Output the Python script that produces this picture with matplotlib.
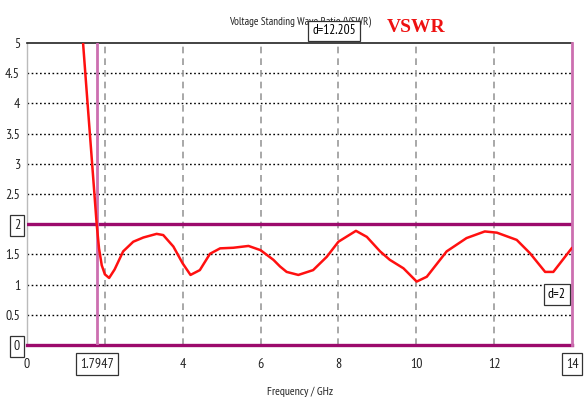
import matplotlib
matplotlib.use("Agg")
import matplotlib.pyplot as plt

plt.rcParams['font.family'] = ['PT Sans Narrow', 'DejaVu Sans']

# VSWR vs frequency
freq = [1.40, 1.44, 1.55, 1.65, 1.72, 1.79, 1.85, 1.92, 2.00, 2.11, 2.25, 2.47,
        2.73, 2.99, 3.33, 3.50, 3.76, 4.00, 4.20, 4.44, 4.70, 4.96, 5.30,
        5.69, 6.00, 6.33, 6.50, 6.67, 6.97, 7.35, 7.70, 8.00, 8.45, 8.73,
        9.07, 9.32, 9.67, 10.01, 10.27, 10.78, 11.29, 11.76, 12.07, 12.58,
        12.92, 13.31, 13.52, 13.99]
vswr = [5.40, 5.00, 4.05, 3.20, 2.60, 2.00, 1.60, 1.32, 1.17, 1.11, 1.25, 1.55,
        1.71, 1.78, 1.84, 1.82, 1.63, 1.35, 1.16, 1.24, 1.51, 1.60, 1.61,
        1.64, 1.57, 1.41, 1.30, 1.21, 1.16, 1.24, 1.46, 1.71, 1.89, 1.79,
        1.55, 1.41, 1.27, 1.05, 1.13, 1.55, 1.77, 1.88, 1.86, 1.74,
        1.52, 1.21, 1.21, 1.60]

marker_x = 1.7947
limit_y = 2
xtick_pos = [0, marker_x, 4, 6, 8, 10, 12, 14]
xtick_labels = ['0', '1.7947', '4', '6', '8', '10', '12', '14']
ytick_pos = [0, 0.5, 1, 1.5, 2, 2.5, 3, 3.5, 4, 4.5, 5]
ytick_labels = ['0', '0.5', '1', '1.5', '2', '2.5', '3', '3.5', '4', '4.5', '5']
xgrid = [2, 4, 6, 8, 10, 12]

fig = plt.figure(figsize=(5.85, 3.99), dpi=100)
ax = fig.add_axes([27 / 585, 54 / 399, 545 / 585, 302 / 399])
ax.set_xlim(0, 14)
ax.set_ylim(0, 5)

# grid: dotted black horizontals, dashed gray verticals
for y in ytick_pos:
    if y not in (0, limit_y, 5):
        ax.axhline(y, color='black', lw=1.0, ls=(0, (1.2, 1.8)), zorder=1)
ax.vlines(xgrid, 0, 5, colors='#9a9a9a', lw=1.2, linestyles=(0, (4, 3)), zorder=1)

ax.plot(freq, vswr, color='#ff1010', lw=1.8, zorder=4)

# markers
ax.axhline(limit_y, color='#9c0a6c', lw=2.4, zorder=3)
ax.axhline(0, color='#9c0a6c', lw=2.4, zorder=3, clip_on=False)
ax.axvline(marker_x, color='#cc6fb0', lw=2.0, zorder=3)
ax.axvline(14, color='#cc6fb0', lw=2.0, zorder=3, clip_on=False)

for s in ['bottom', 'right']:
    ax.spines[s].set_visible(False)
ax.spines['top'].set_color('#222222')
ax.spines['top'].set_linewidth(1.2)
ax.spines['left'].set_color('#bbbbbb')
ax.spines['left'].set_linewidth(1.0)

ax.set_xticks(xtick_pos, xtick_labels)
ax.set_yticks(ytick_pos, ytick_labels)
ax.tick_params(length=0, labelsize=10, colors='#222222')
ax.tick_params(axis='x', pad=9)
ax.tick_params(axis='y', pad=5)

box = dict(boxstyle='square,pad=0.3', fc='white', ec='#333333', lw=0.9)
for lab in ax.get_xticklabels():
    if lab.get_text() in ('1.7947', '14'):
        lab.set_bbox(box)
for lab in ax.get_yticklabels():
    if lab.get_text() in ('0', '2'):
        lab.set_bbox(box)

ax.text(13.61, 0.84, 'd=2', fontsize=10, ha='center', va='center',
        bbox=box, zorder=6)

fig.text(300 / 585, 1 - 22 / 399, 'Voltage Standing Wave Ratio (VSWR)',
         fontsize=8, ha='center', va='center', color='#222222')
fig.text(334 / 585, 1 - 31 / 399, 'd=12.205', fontsize=9.5, ha='center',
         va='center', bbox=dict(boxstyle='square,pad=0.3', fc='white',
                                ec='#333333', lw=0.9))
fig.text(416 / 585, 1 - 27 / 399, 'VSWR', fontsize=14, ha='center', va='center',
         color='#ee1111', fontweight='bold', family='Liberation Serif')
fig.text(300 / 585, 1 - 392 / 399, 'Frequency / GHz', fontsize=8.5,
         ha='center', va='center', color='#222222')

fig.savefig('out.png', dpi=100)
